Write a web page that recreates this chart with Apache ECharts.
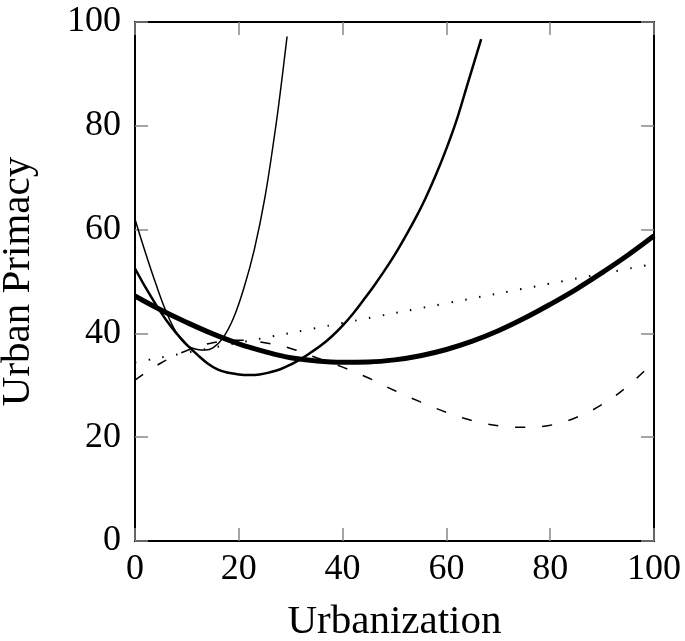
<!DOCTYPE html>
<html>
<head>
<meta charset="utf-8">
<script src="https://cdn.jsdelivr.net/npm/echarts@6/dist/echarts.min.js"></script>
<style>
  html, body { margin: 0; padding: 0; background: #fff; }
  #chart { width: 685px; height: 641px; }
</style>
</head>
<body>
<div id="chart"></div>
<script>
// values
var thinX = [0, 2, 4, 6, 8, 10, 12, 13.5, 15, 17, 19, 21, 23, 25, 27, 28, 29.3]
var thinY = [62, 55.6, 49.6, 44.2, 40.1, 37.7, 36.9, 36.8, 37.2, 39.2, 43.0, 48.8, 56.2, 66.0, 79.0, 86.5, 97.2]

var midX = [0, 2, 4, 6, 8, 10, 12, 14, 16, 18, 20, 22, 24, 26, 28, 30, 32, 34, 36, 38, 40, 42, 44, 46, 48, 50, 52, 54, 56, 58, 60, 62, 64, 66.7]
var midY = [52.5, 48.9, 45.6, 42.6, 40.0, 37.8, 35.9, 34.2, 33.0, 32.4, 32.1, 32.0, 32.1, 32.5, 33.1, 34.0, 35.1, 36.4, 37.8, 39.5, 41.5, 43.8, 46.4, 49.1, 52.0, 55.1, 58.5, 62.1, 66.1, 70.6, 75.6, 81.2, 87.8, 96.7]

var thickX = [0, 5, 10, 15, 20, 25, 30, 35, 40, 45, 50, 55, 60, 65, 70, 75, 80, 85, 90, 95, 100]
var thickY = [47.2, 44.5, 42.1, 39.9, 38.0, 36.5, 35.3, 34.7, 34.45, 34.5, 34.9, 35.7, 36.9, 38.5, 40.5, 42.9, 45.6, 48.5, 51.7, 55.1, 58.8]

var dotX = [0, 20, 40, 60, 80, 100]
var dotY = [34.4, 38.2, 42.0, 45.8, 49.6, 53.4]

var dashX = [0, 5, 10, 15, 20, 25, 30, 35, 40, 45, 50, 55, 60, 65, 70, 75, 80, 85, 90, 95, 100]
var dashY = [31.0, 34.3, 36.7, 38.2, 38.7, 38.2, 37.1, 35.3, 33.5, 31.4, 29.0, 26.8, 24.8, 23.2, 22.2, 21.9, 22.3, 23.8, 26.3, 29.9, 34.6]

function pairs (xs, ys) {
  return xs.map(function (x, i) { return [x, ys[i]] })
}

var font = '"Liberation Serif", "DejaVu Serif", serif'

function axisBase (pos, showLabel) {
  return {
    type: 'value',
    position: pos,
    min: 0,
    max: 100,
    interval: 20,
    axisLine: { show: true, onZero: false, lineStyle: { color: '#000', width: 2 } },
    axisTick: { show: true, inside: true, length: 13, lineStyle: { color: '#888', width: 1.5 } },
    axisLabel: {
      show: showLabel,
      color: '#000',
      fontFamily: font,
      fontSize: 36,
      margin: 11
    },
    splitLine: { show: false }
  }
}

var xBottom = axisBase('bottom', true)
xBottom.name = 'Urbanization'
xBottom.nameLocation = 'middle'
xBottom.nameGap = 61
xBottom.nameTextStyle = { color: '#000', fontFamily: font, fontSize: 41 }

var yLeft = axisBase('left', true)
yLeft.axisLabel.margin = 14
yLeft.name = 'Urban Primacy'
yLeft.nameLocation = 'middle'
yLeft.nameGap = 96
yLeft.nameTextStyle = { color: '#000', fontFamily: font, fontSize: 41 }

function line (data, width, type) {
  return {
    type: 'line',
    data: data,
    smooth: 0.4,
    symbol: 'none',
    clip: true,
    lineStyle: { color: '#000', width: width, type: type || 'solid' }
  }
}

var chart = echarts.init(document.getElementById('chart'))
chart.setOption({
  animation: false,
  backgroundColor: '#fff',
  grid: { left: 135, right: 31, top: 22, bottom: 100, outerBoundsMode: 'none' },
  xAxis: [xBottom, axisBase('top', false)],
  yAxis: [yLeft, axisBase('right', false)],
  series: [
    line(pairs(dotX, dotY), 2, [1.5, 12.5]),
    line(pairs(dashX, dashY), 1.5, [10, 17]),
    line(pairs(thinX, thinY), 1.5),
    line(pairs(midX, midY), 2.5),
    line(pairs(thickX, thickY), 5)
  ]
})
</script>
</body>
</html>
